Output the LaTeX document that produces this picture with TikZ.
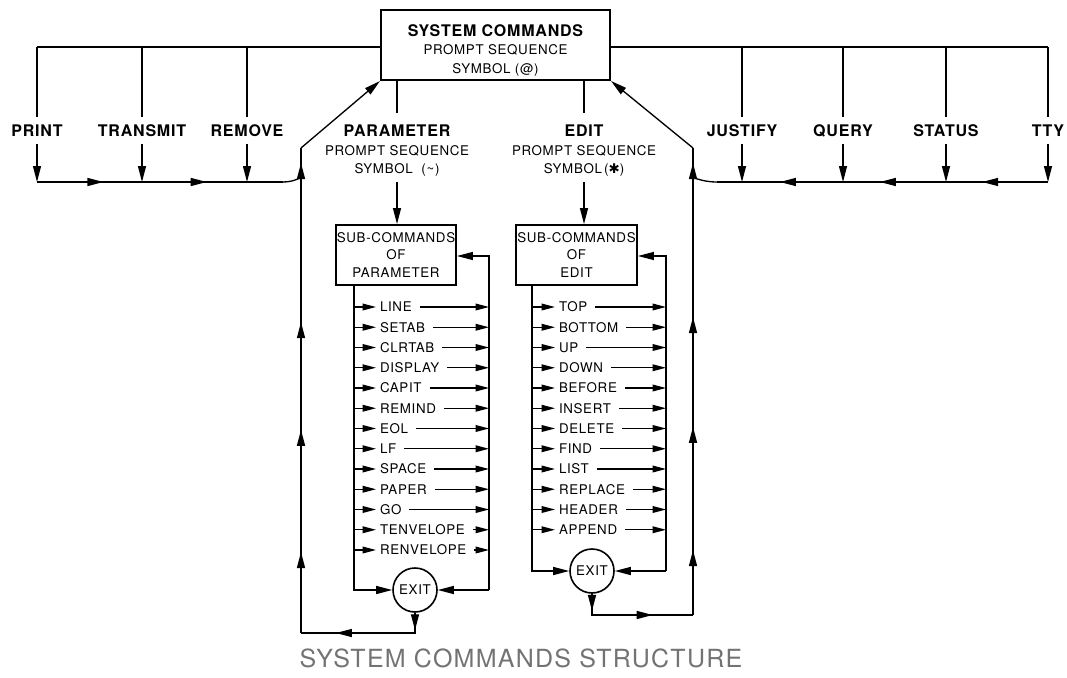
\documentclass[tikz,border=0pt]{standalone}
\usepackage{fontspec}
\setmainfont[LetterSpace=5]{TeX Gyre Heros}
\newfontfamily\symfont{DejaVu Sans}
\usetikzlibrary{arrows.meta,decorations.markings}
\tikzset{
  bigtip/.tip={Triangle[length=12pt,width=6pt]},
  smalltip/.tip={Triangle[length=10pt,width=5pt]},
}
\begin{document}
\begin{tikzpicture}[x=0.75pt,y=-0.75pt,line width=1pt,>=bigtip,
  cmd/.style={font=\fontsize{12}{14}\selectfont\bfseries,inner sep=0pt,text height=8.6pt,text depth=0pt},
  psq/.style={font=\fontsize{10}{12}\selectfont,inner sep=0pt,text height=7.2pt,text depth=0pt},
  itm/.style={font=\fontsize{10}{12}\selectfont,inner ysep=0pt,inner xsep=2.5pt,text height=7.2pt,text depth=0pt,anchor=west},
  bigbox/.style={draw,line width=1.5pt,inner sep=0pt},
  subbox/.style={draw,line width=1.4pt,inner sep=0pt,align=center,font=\fontsize{10}{13.1}\selectfont},
  exitc/.style={draw,circle,line width=1.2pt,minimum size=33pt,inner sep=0pt,font=\fontsize{10}{12}\selectfont},
  midarr/.style={postaction={decorate,decoration={markings,mark=at position #1 with {\arrow{>}}}}},
  itmarr/.style={-smalltip},
]
\useasboundingbox (0,0) rectangle (1067,678);

% ---------- system commands box ----------
\node[bigbox,minimum width=171.75pt,minimum height=52.5pt] (sys) at (495.5,45) {};
\node[cmd] (sysT) at (495.5,31) {SYSTEM COMMANDS};
\node[psq] (sysP) at (495.5,50) {PROMPT SEQUENCE};
\node[psq] (sysS) at (495.5,69) {SYMBOL (@)};

% ---------- top-level commands ----------
\foreach \n/\x/\t in {print/37/PRINT, transmit/142/TRANSMIT, remove/247/REMOVE,
                      justify/742/JUSTIFY, query/843/QUERY, status/946/STATUS, tty/1048/TTY} {
  \node[cmd] (\n) at (\x,130.5) {\t};
  \coordinate (\n-t) at (\x,47);
  \coordinate (\n-b) at (\x,182);
  \draw[shorten >=5.25pt] (\n-t) -- (\n.north);
  \draw[->,shorten <=5pt] (\n.south) -- (\n-b);
}
\draw (print-t) -- (sys.west |- print-t);
\draw (sys.east |- tty-t) -- (tty-t);

% left return path
\coordinate (lj) at (283,182);
\coordinate (lv) at (301,163);
\coordinate (lt) at (301,148);
\coordinate (lbot) at (301,633);
\draw[midarr=0.27,midarr=0.69] (print-b) -- (lj);
\draw[->] (lj) .. controls (296,182) and (301,176) .. (lv);
\draw[midarr=0.167,midarr=0.419,midarr=0.641] (lbot) -- (lt);
\draw[->] (lt) -- (sys.south west);

% right return path
\coordinate (rj) at (717,182);
\coordinate (rv) at (693,163);
\coordinate (rt) at (693,148);
\coordinate (rbot) at (693,615);
\draw[midarr=0.199,midarr=0.508,midarr=0.81] (tty-b) -- (rj);
\draw[->] (rj) .. controls (700,182) and (693,176) .. (rv);
\draw[midarr=0.139,midarr=0.403,midarr=0.638] (rbot) -- (rt);
\draw[->] (rt) -- (sys.south east);

% ---------- PARAMETER branch ----------
\coordinate (ps) at (397,80);
\node[cmd] (par) at (397,131) {PARAMETER};
\node[psq] (parP) at (397,151) {PROMPT SEQUENCE};
\node[psq] (parS) at (397,169) {SYMBOL\ \ (\textasciitilde)};
\draw[shorten >=9pt] (ps) -- (par.north);
\node[subbox,minimum width=90pt,minimum height=45pt] (pbox) at (396,255) {SUB-COMMANDS\\OF\\PARAMETER};
\draw[->,shorten <=6pt] (parS.south) -- (parS.south |- pbox.north);

\node[exitc] (pexit) at (415,590) {EXIT};
\coordinate (plt) at (354,285);
\coordinate (plb) at (354,590);
\coordinate (prt) at (489,256);
\coordinate (prb) at (489,590);
\coordinate (pe) at (415,633);
\draw[->] (plt) -- (plb) -- (pexit.west);
\draw[->] (prb) -- (pexit.east);
\draw[->] (prb) -- (prt) -- (prt -| pbox.east);
\draw[midarr=0.13,midarr=0.74] (pexit.south) -- (pe) -- (lbot);

\foreach \t [count=\i from 0] in {LINE,SETAB,CLRTAB,DISPLAY,CAPIT,REMIND,EOL,LF,SPACE,PAPER,GO,TENVELOPE,RENVELOPE} {
  \pgfmathsetmacro\yy{307+20.25*\i}
  \coordinate (pL\i) at (354,\yy);
  \coordinate (pR\i) at (489,\yy);
  \node[itm] (p\i) at (376,\yy) {\t};
  \draw[itmarr] (pL\i) -- (p\i.west);
  \draw[itmarr,shorten <=3pt] (p\i.east) -- (pR\i);
}

% ---------- EDIT branch ----------
\coordinate (es) at (584,80);
\node[cmd] (edit) at (584,131) {EDIT};
\node[psq] (editP) at (584,151) {PROMPT SEQUENCE};
\node[psq] (editS) at (584,169) {SYMBOL\,({\symfont ✱})};
\draw[shorten >=9pt] (es) -- (edit.north);
\node[subbox,minimum width=90.75pt,minimum height=45pt] (ebox) at (576.5,255) {SUB-COMMANDS\\OF\\EDIT};
\draw[->,shorten <=6pt] (editS.south) -- (editS.south |- ebox.north);

\node[exitc] (eexit) at (592,571) {EXIT};
\coordinate (elt) at (532,285);
\coordinate (elb) at (532,571);
\coordinate (ert) at (666,256);
\coordinate (erb) at (666,571);
\coordinate (ee) at (592,615);
\draw[->] (elt) -- (elb) -- (eexit.west);
\draw[->] (erb) -- (eexit.east);
\draw[->] (erb) -- (ert) -- (ert -| ebox.east);
\draw[midarr=0.14,midarr=0.67] (eexit.south) -- (ee) -- (rbot);

\foreach \t [count=\i from 0] in {TOP,BOTTOM,UP,DOWN,BEFORE,INSERT,DELETE,FIND,LIST,REPLACE,HEADER,APPEND} {
  \pgfmathsetmacro\yy{307+20.25*\i}
  \coordinate (eL\i) at (532,\yy);
  \coordinate (eR\i) at (666,\yy);
  \node[itm] (e\i) at (555,\yy) {\t};
  \draw[itmarr] (eL\i) -- (e\i.west);
  \draw[itmarr,shorten <=3pt] (e\i.east) -- (eR\i);
}

% ---------- caption ----------
\node[font=\fontsize{18.75}{20}\selectfont,text=black!55,inner sep=0pt] (cap) at (521,658) {SYSTEM COMMANDS STRUCTURE};
\end{tikzpicture}
\end{document}
